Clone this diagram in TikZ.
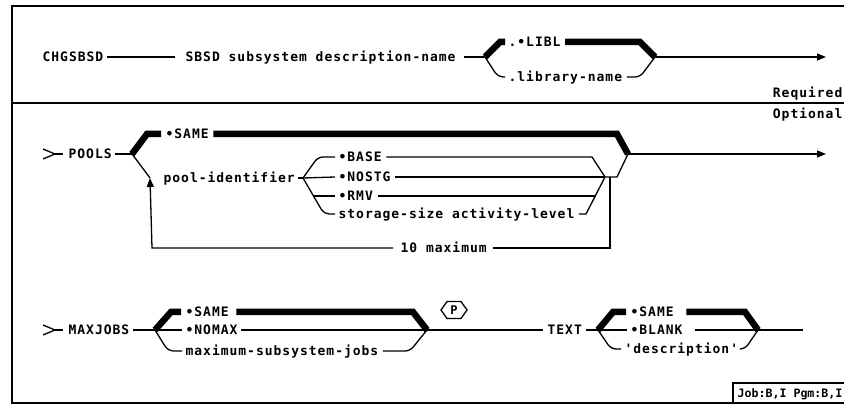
\documentclass[tikz,border=0pt]{standalone}
\usepackage{fontspec}
\newfontfamily\rf[LetterSpace=7.5]{DejaVu Sans Mono}
\newfontfamily\rfn{DejaVu Sans Mono}
\usetikzlibrary{arrows.meta}
\begin{document}
\begin{tikzpicture}[x=1pt,y=-1pt,line width=1.3pt,
  lbl/.style={inner xsep=0pt,inner ysep=0pt,anchor=west,font=\rf\bfseries\fontsize{13}{13}\selectfont,text height=9.5pt,text depth=0pt},
  thk/.style={line width=6.5pt,line join=miter},
  arr/.style={-{Triangle[length=9pt,width=7pt]}},
  rc/.style={rounded corners=5pt}]
\useasboundingbox (0,0) rectangle (844,406);
\fill[white] (0,0) rectangle (844,406);
% frame
\draw[line width=1.5pt] (850,6) -- (12,6) -- (12,403) -- (850,403);
\draw[line width=1.5pt] (12,103) -- (850,103);
\node[lbl,anchor=east] (req) at (843,93) {Required};
\node[lbl,anchor=east] (opt) at (843,114) {Optional};
% row 1
\node[lbl] (chg) at (42,57) {CHGSBSD};
\node[lbl] (sbsd) at (185,57) {SBSD subsystem description-name};
\coordinate (f1) at (485,57);
\coordinate (j1) at (655,57);
\node[lbl] (libl) at (508,42) {.•LIBL};
\node[lbl] (libn) at (508,77) {.library-name};
\draw[shorten <=3pt,shorten >=10pt] (chg.east) -- (sbsd.west);
\draw[shorten <=8pt] (sbsd.east) -- (f1);
\draw[thk] (f1) -- (500,42) -- ([xshift=-3pt]libl.west);
\draw[thk] ([xshift=4pt]libl.east) -- (640,42) -- (j1);
\draw[rc] (f1) -- (498,77) -- ([xshift=-3pt]libn.west);
\draw[rc] ([xshift=4pt]libn.east) -- (640,77) -- (j1);
\draw[arr] (j1) -- (826,57);
% row 2
\coordinate (s2) at (55,154);
\draw (s2) ++(-12,-5) -- (s2) -- ++(-12,5);
\node[lbl] (pools) at (68,154) {POOLS};
\draw (s2) -- ([xshift=-5pt]pools.west);
\coordinate (f2) at (132,154);
\coordinate (j2) at (628,154);
\draw[shorten <=3pt] (pools.east) -- (f2);
\node[lbl] (same2) at (165,134) {•SAME};
\draw[thk] (f2) -- (147,134) -- ([xshift=-4pt]same2.west);
\draw[thk] ([xshift=4pt]same2.east) -- (617,134) -- (j2);
\draw[arr] (j2) -- (826,154);
\node[lbl] (pid) at (163,178) {pool-identifier};
\coordinate (lb2) at (150,178);
\draw (f2) -- (lb2);
\coordinate (f3) at (303,178);
\draw[shorten <=3pt] (pid.east) -- (f3);
\node[lbl] (base) at (338,157) {•BASE};
\node[lbl] (nostg) at (338,177) {•NOSTG};
\node[lbl] (rmv) at (338,196) {•RMV};
\node[lbl] (stor) at (338,214) {storage-size activity-level};
\draw[rc] (f3) -- (318,157) -- ([xshift=-3pt]base.west);
\draw (f3) -- ([xshift=-3pt]nostg.west);
\draw[rc] (f3) -- (324,214) -- ([xshift=-3pt]stor.west);
\coordinate (r3) at (314,196);
\draw (r3) -- ([xshift=-3pt]rmv.west);
\coordinate (j3) at (605,177);
\draw ([xshift=4pt]base.east) -- (592,157) -- (j3);
\draw ([xshift=4pt]nostg.east) -- (j3);
\draw ([xshift=4pt]stor.east) -- (586,214) -- (j3);
\coordinate (r4) at (595.5,196);
\draw ([xshift=4pt]rmv.east) -- (r4);
\draw (j3) -- (617,177) -- (j2);
\node[lbl] (max10) at (400,248) {10 maximum};
\coordinate (lp) at (610,177);
\draw (lp) -- (610,248) -- ([xshift=6pt]max10.east);
\draw[arr] ([xshift=-7pt]max10.west) -- (152,248) -- (lb2);
% row 3
\coordinate (s3) at (55,330);
\draw (s3) ++(-12,-5) -- (s3) -- ++(-12,5);
\node[lbl] (maxj) at (68,330) {MAXJOBS};
\draw (s3) -- ([xshift=-5pt]maxj.west);
\coordinate (f4) at (155,330);
\coordinate (j4) at (427,330);
\draw[shorten <=3pt] (maxj.east) -- (f4);
\node[lbl] (same3) at (185,312) {•SAME};
\node[lbl] (nomax) at (185,330) {•NOMAX};
\node[lbl] (msj) at (185,351) {maximum-subsystem-jobs};
\draw[thk] (f4) -- (171,312) -- ([xshift=-4pt]same3.west);
\draw[thk] ([xshift=7pt]same3.east) -- (413,312) -- (j4);
\draw (f4) -- ([xshift=-3pt]nomax.west);
\draw ([xshift=3pt]nomax.east) -- (j4);
\draw[rc] (f4) -- (168,351) -- ([xshift=-3pt]msj.west);
\draw[rc] ([xshift=4pt]msj.east) -- (410,351) -- (j4);
\node[font=\rfn\bfseries\fontsize{12}{12}\selectfont,inner sep=0pt] (p) at (454,310) {P};
\draw (p.center) ++(-13,0) -- ++(6,-8.5) -- ++(14,0) -- ++(6,8.5) -- ++(-6,8.5) -- ++(-14,0) -- cycle;
\node[lbl] (txt) at (547,330) {TEXT};
\draw (j4) -- ([xshift=-4pt]txt.west);
\coordinate (f5) at (598,330);
\coordinate (j5) at (758,330);
\draw[shorten <=3pt] (txt.east) -- (f5);
\node[lbl] (same4) at (630,312) {•SAME};
\node[lbl] (blank) at (630,330) {•BLANK};
\node[lbl] (desc) at (624,349) {'description'};
\draw[thk] (f5) -- (613,312) -- ([xshift=-4pt]same4.west);
\draw[thk] ([xshift=12pt]same4.east) -- (745,312) -- (j5);
\draw (f5) -- ([xshift=-3pt]blank.west);
\draw ([xshift=12pt]blank.east) -- (j5);
\draw[rc] (f5) -- (611,349) -- ([xshift=-3pt]desc.west);
\draw[rc] ([xshift=2pt]desc.east) -- (745,349) -- (j5);
\draw (j5) -- (803,330);
% job box
\draw[line width=1.5pt] (850,383) -- (733,383) -- (733,403);
\node[anchor=west,inner sep=0pt,font=\rfn\bfseries\fontsize{11.6}{11.6}\selectfont,text height=8.5pt,text depth=0pt] (job) at (737,393.5) {Job:B,I Pgm:B,I};
\end{tikzpicture}
\end{document}
